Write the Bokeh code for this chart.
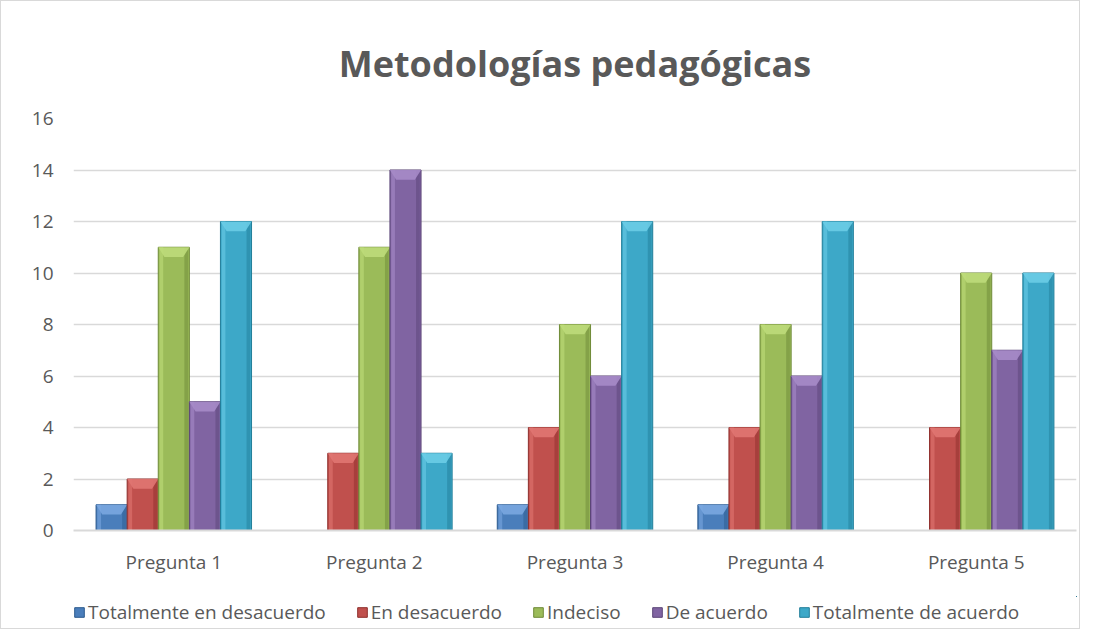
from bokeh.plotting import figure
from bokeh.models import Range1d, Legend, LegendItem, FixedTicker, ColumnDataSource
from bokeh.layouts import column
from bokeh.embed import file_html
from bokeh.resources import INLINE

categories = ["Pregunta 1", "Pregunta 2", "Pregunta 3", "Pregunta 4", "Pregunta 5"]
series_names = ["Totalmente en desacuerdo", "En desacuerdo", "Indeciso", "De acuerdo", "Totalmente de acuerdo"]
totalmente_desacuerdo = [1, 0, 1, 1, 0]
en_desacuerdo = [2, 3, 4, 4, 4]
indeciso = [11, 11, 8, 8, 10]
de_acuerdo = [5, 14, 6, 6, 7]
totalmente_acuerdo = [12, 3, 12, 12, 10]
y_ticks = [0, 2, 4, 6, 8, 10, 12, 14, 16]

series = [totalmente_desacuerdo, en_desacuerdo, indeciso, de_acuerdo, totalmente_acuerdo]
base_colors = ["#4A7EBB", "#C0504D", "#9BBB59", "#8064A2", "#3DA8C8"]
light_colors = ["#7AA7E0", "#E07572", "#BEDC7A", "#A68BC8", "#6ACCE6"]
dark_colors = ["#2C5A8E", "#8E2E2B", "#6E8A37", "#5A4477", "#217E99"]

FONT = "Open Sans"
TXT = "#595959"
FS = "19px"

p = figure(width=1078, height=595, output_backend="svg", toolbar_location=None,
           x_range=Range1d(0.5, 5.5), y_range=Range1d(0, 16),
           min_border_left=72, min_border_right=3, min_border_top=117, min_border_bottom=66)
p.outline_line_color = None
p.background_fill_color = "white"
p.border_fill_color = "white"

p.title.text = "Metodologías pedagógicas"
p.title.text_font = FONT
p.title.text_font_size = "36px"
p.title.text_font_style = "bold"
p.title.text_color = TXT
p.title.align = "center"
p.title.standoff = 62

p.xgrid.grid_line_color = None
p.ygrid.grid_line_color = "#D9D9D9"
p.ygrid.grid_line_width = 1.5
p.yaxis.ticker = FixedTicker(ticks=y_ticks)
p.xaxis.ticker = FixedTicker(ticks=[1, 2, 3, 4, 5])
p.xaxis.major_label_overrides = {i + 1: c for i, c in enumerate(categories)}

for ax in (p.xaxis, p.yaxis):
    ax.major_tick_line_color = None
    ax.minor_tick_line_color = None
    ax.major_label_text_font = FONT
    ax.major_label_text_font_size = FS
    ax.major_label_text_color = TXT
p.yaxis.axis_line_color = None
p.yaxis.major_label_standoff = 14
p.xaxis.axis_line_color = "#D9D9D9"
p.xaxis.axis_line_width = 2
p.xaxis.major_label_standoff = 12

# legend strip below the chart (its view lies where the bars never reach)
lg = figure(width=1078, height=32, output_backend="svg", toolbar_location=None,
            x_range=Range1d(-20, -19), y_range=Range1d(-20, -19),
            x_axis_location=None, y_axis_location=None,
            min_border_left=0, min_border_right=0, min_border_top=0, min_border_bottom=0)
lg.grid.grid_line_color = None
lg.outline_line_color = None
lg.border_fill_color = "white"
lg.background_fill_color = "white"

bw = 0.155
items = []
for i, (vals, name) in enumerate(zip(series, series_names)):
    off = (i - 2) * bw
    xs = [k + 1 + off for k in range(len(vals))]
    src = ColumnDataSource(dict(x=xs, top=vals))
    p.vbar(x="x", top="top", width=bw, source=src, fill_color=base_colors[i],
           line_color=dark_colors[i], line_width=1)
    p.vbar(x=[x - bw * 0.40 for x in xs], top=vals, width=bw * 0.12,
           fill_color=light_colors[i], fill_alpha=0.6, line_color=None)
    p.vbar(x=[x + bw * 0.40 for x in xs], top=vals, width=bw * 0.12,
           fill_color=dark_colors[i], fill_alpha=0.5, line_color=None)
    cap_x, cap_y = [], []
    for x, v in zip(xs, vals):
        if v > 0:
            h = min(0.38, v * 0.4)
            cap_x.append([x - bw / 2, x + bw / 2, x + bw * 0.3, x - bw * 0.3])
            cap_y.append([v, v, v - h, v - h])
    if cap_x:
        p.patches(cap_x, cap_y, fill_color=light_colors[i], line_color=None, fill_alpha=0.9)
    r = lg.vbar(x="x", top="top", width=bw, source=src, fill_color=base_colors[i],
                line_color=dark_colors[i], line_width=1)
    items.append(LegendItem(label=name, renderers=[r]))

legend = Legend(items=items, orientation="horizontal", location=(0, 3),
                label_text_font=FONT, label_text_font_size=FS, label_text_color=TXT,
                glyph_width=12, glyph_height=12, label_standoff=3, spacing=30,
                border_line_color=None, background_fill_alpha=0, padding=0, margin=0)
lg.add_layout(legend, "center")

layout = column(p, lg, spacing=0)
layout.styles = {"border": "1px solid #D9D9D9"}
open("out.html", "w").write(file_html(layout, INLINE))
